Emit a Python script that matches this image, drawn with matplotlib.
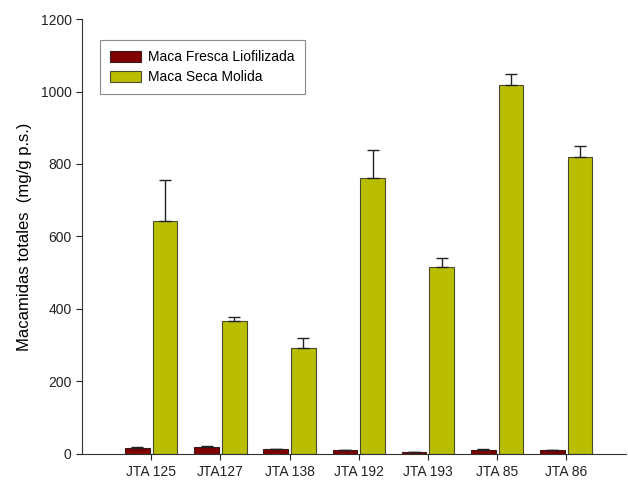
import matplotlib.pyplot as plt
import numpy as np

plt.rcParams['font.family'] = ['Liberation Sans', 'DejaVu Sans']

labels = ["JTA 125", "JTA127", "JTA 138", "JTA 192", "JTA 193", "JTA 85", "JTA 86"]
fresca = [17, 20, 13, 10.5, 5, 10.5, 10]
fresca_err = [3, 2.5, 1.5, 1, 0.5, 2.5, 2]
seca = [642, 366, 292, 761, 515, 1017, 820]
seca_err = [113, 12, 27, 77, 25, 30, 31]

x = np.arange(len(labels))
w = 0.355

fig = plt.figure(figsize=(6.28, 4.80), dpi=100)
ax = fig.add_axes([0.1306, 0.0542, 0.867, 0.9062])

ax.bar(x - 0.2, fresca, w, color="#800000", edgecolor="#3a1a1a", linewidth=0.8,
       yerr=[np.zeros(len(fresca)), fresca_err], capsize=4,
       error_kw=dict(ecolor="#222222", elinewidth=1, capthick=1),
       label="Maca Fresca Liofilizada")
ax.bar(x + 0.2, seca, w, color="#b9bf00", edgecolor="#4a4a30", linewidth=0.8,
       yerr=[np.zeros(len(seca)), seca_err], capsize=4,
       error_kw=dict(ecolor="#222222", elinewidth=1, capthick=1),
       label="Maca Seca Molida")

ax.set_xlim(-1.0, 6.87)
ax.set_ylim(0, 1200)
ax.set_yticks(range(0, 1201, 200))
ax.set_xticks(x)
ax.set_xticklabels(labels)
ax.tick_params(axis="both", labelsize=10, direction="out", length=4, width=0.8, colors="#222222")
ax.tick_params(axis="x", length=4, pad=4)
ax.spines["top"].set_visible(False)
ax.spines["right"].set_visible(False)
for s in ("left", "bottom"):
    ax.spines[s].set_color("#333333")
    ax.spines[s].set_linewidth(0.8)

ax.set_ylabel("Macamidas totales  (mg/g p.s.)", fontsize=12, labelpad=6)

leg = ax.legend(loc="upper left", bbox_to_anchor=(0.033, 0.952), borderaxespad=0,
                fancybox=False, fontsize=10, handlelength=2.2, handleheight=0.85,
                borderpad=0.75, labelspacing=0.4, handletextpad=0.5)
leg.get_frame().set_edgecolor("#707070")
leg.get_frame().set_linewidth(0.8)

fig.savefig("out.png", dpi=100)
